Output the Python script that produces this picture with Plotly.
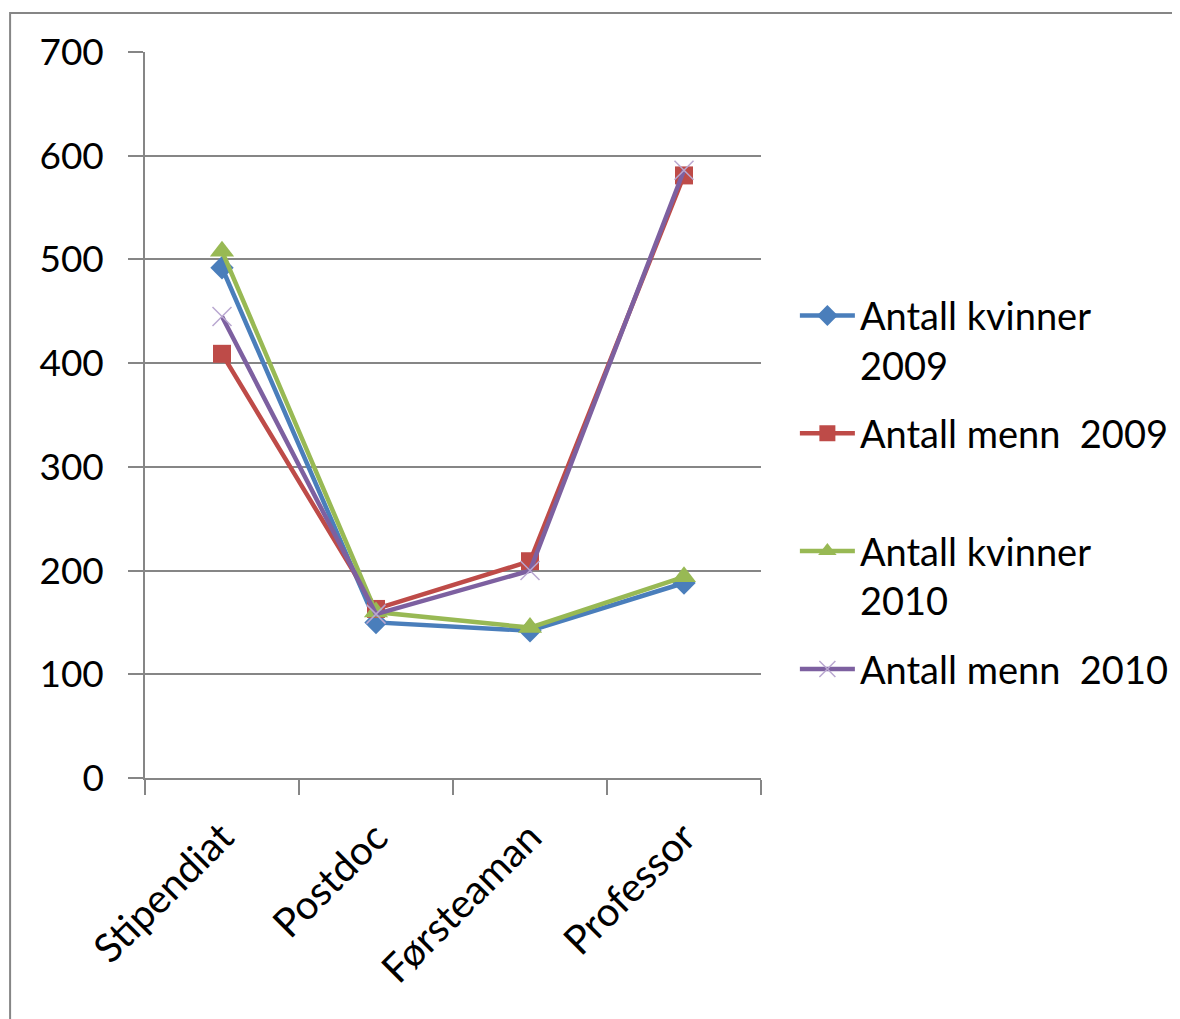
import plotly.graph_objects as go

categories = ["Stipendiat", "Postdoc", "Førsteaman", "Professor"]
kvinner_2009 = [492, 150, 142, 188]
menn_2009 = [409, 163, 209, 581]
kvinner_2010 = [508, 160, 145, 194]
menn_2010 = [445, 158, 200, 586]
y_ticks = [0, 100, 200, 300, 400, 500, 600, 700]

series = [
    ("Antall kvinner<br>2009", kvinner_2009, "#4A7EBB", dict(symbol="diamond", size=18)),
    ("Antall menn\u00a0\u00a02009<br>\u00a0", menn_2009, "#BE4B48", dict(symbol="square", size=18)),
    ("Antall kvinner<br>2010", kvinner_2010, "#98B954", dict(symbol="triangle-up", size=21)),
    ("Antall menn\u00a0\u00a02010", menn_2010, "#7D60A0",
     dict(symbol="x-thin", size=19, line=dict(width=1.5, color="#B9A7D0"))),
]

FONT = "Lato, 'Liberation Sans', sans-serif"
fig = go.Figure()
for i, (name, vals, color, mk) in enumerate(series):
    marker = dict(color=color, **mk)
    fig.add_trace(go.Scatter(
        x=categories, y=vals, name=name, mode="lines+markers",
        legendgroup=f"g{i}",
        line=dict(color=color, width=4.5), marker=marker,
    ))

fig.update_layout(
    width=1172, height=1011,
    margin=dict(l=137, r=419, t=44, b=241, autoexpand=False),
    plot_bgcolor="white", paper_bgcolor="white",
    font=dict(family=FONT, size=36, color="black"),
    showlegend=True,
    legend=dict(x=1.055, y=0.68, xanchor="left", yanchor="top",
                valign="top", itemwidth=55, tracegroupgap=16,
                font=dict(family=FONT, size=38, color="black"),
                bgcolor="rgba(0,0,0,0)"),
    shapes=[dict(type="rect", xref="paper", yref="paper",
                 x0=-0.219, y0=-1.0, x1=2.0, y1=1.0537,
                 line=dict(color="#868686", width=2), layer="below")],
)
fig.update_xaxes(
    type="category", tickangle=-45, tickson="boundaries",
    ticks="outside", ticklen=15, tickcolor="#868686", tickwidth=1.5,
    ticklabelstandoff=18,
    showline=True, linecolor="#868686", linewidth=1.5,
    showgrid=False, range=[-0.5, 3.5],
    tickfont=dict(family=FONT, size=40),
)
fig.update_yaxes(
    range=[0, 700], tickvals=y_ticks,
    ticks="outside", ticklen=15, tickcolor="#868686", tickwidth=1.5,
    ticklabelstandoff=17,
    showline=True, linecolor="#868686", linewidth=1.5,
    showgrid=True, gridcolor="#868686", gridwidth=1.5,
    zeroline=False,
    tickfont=dict(family=FONT, size=37),
)

fig.write_html("out.html")
